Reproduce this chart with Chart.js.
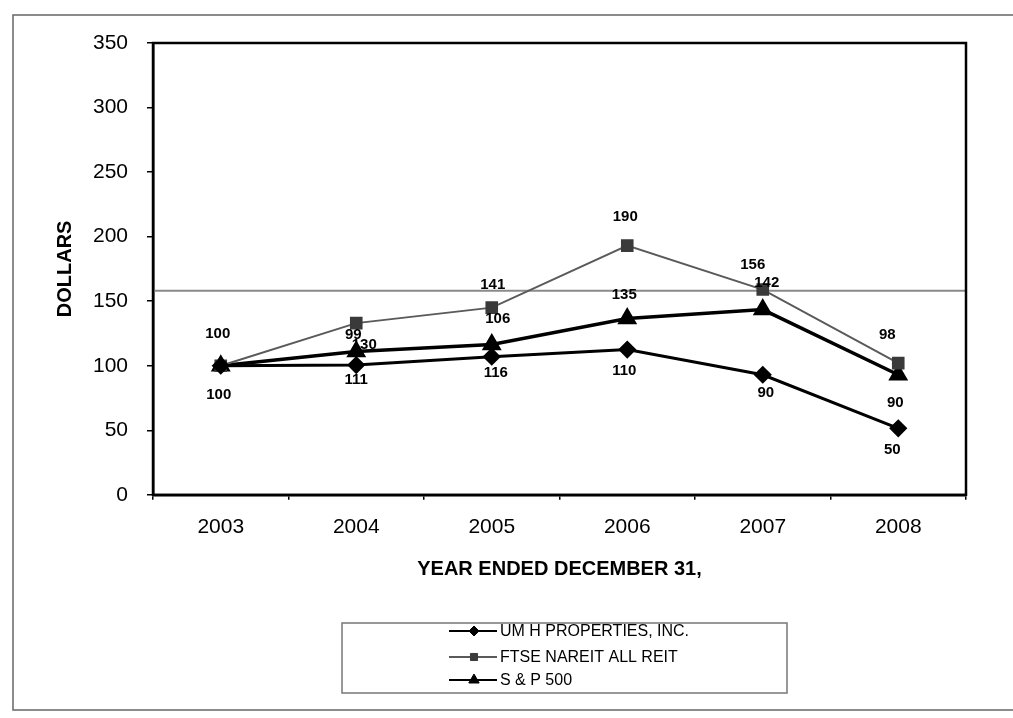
<!DOCTYPE html>
<html>
<head>
<meta charset="utf-8">
<script src="https://cdn.jsdelivr.net/npm/chart.js@4.4.0/dist/chart.umd.min.js"></script>
<style>
  body { margin: 0; background: #fff; }
</style>
</head>
<body>
<canvas id="chart-tsr" width="1013" height="718"></canvas>
<script>
// values
const years = ["2003", "2004", "2005", "2006", "2007", "2008"];
const umhValues = [100, 100.5, 107, 112.5, 93, 51.5];
const ftseValues = [100, 133, 145, 193, 159, 102];
const spValues = [100, 111, 116.5, 136.5, 143.5, 93];

// printed point labels (they don't sit exactly on their points in the scan)
const umhLabels = ["100", "111", "116", "110", "90", "50"];
const ftseLabels = ["100", "99", "141", "190", "156", "98"];
const spLabels = ["", "130", "106", "135", "142", "90"];

// where each printed label sits relative to its point, in px
const umhLabelShift = [[-2, 29], [0, 15], [4, 16], [-3, 21], [3, 18], [-6, 22]];
const ftseLabelShift = [[-3, -32], [-3, 12], [1, -23], [-2, -29], [-10, -25], [-11, -28]];
const spLabelShift = [[0, 0], [8, -7], [6, -26], [-3, -24], [4, -27], [-3, 28]];

const seriesNames = ["UM H PROPERTIES, INC.", "FTSE NAREIT ALL REIT", "S & P 500"];
const scanLineValue = 158; // grey rule running across the scan

const FONT = "'Liberation Sans', Arial, sans-serif";
Chart.defaults.font.family = FONT;
Chart.defaults.color = "#000";

const pointLabels = [
  { labels: umhLabels, shift: umhLabelShift },
  { labels: ftseLabels, shift: ftseLabelShift },
  { labels: spLabels, shift: spLabelShift },
];

const decorations = {
  id: "decorations",
  beforeDatasetsDraw(chart) {
    const { ctx, chartArea } = chart;
    const y = chart.scales.y.getPixelForValue(scanLineValue);
    ctx.save();
    ctx.strokeStyle = "#8a8a8a";
    ctx.lineWidth = 2;
    ctx.beginPath();
    ctx.moveTo(chartArea.left, y);
    ctx.lineTo(chartArea.right, y);
    ctx.stroke();
    ctx.restore();
  },
  afterDraw(chart) {
    const { ctx, chartArea } = chart;
    ctx.save();

    // frame round the plot
    ctx.strokeStyle = "#000";
    ctx.lineWidth = 2.5;
    ctx.strokeRect(chartArea.left, chartArea.top, chartArea.right - chartArea.left, chartArea.bottom - chartArea.top);

    // point labels
    ctx.fillStyle = "#000";
    ctx.font = "bold 15px " + FONT;
    ctx.textAlign = "center";
    ctx.textBaseline = "middle";
    pointLabels.forEach((set, di) => {
      const meta = chart.getDatasetMeta(di);
      meta.data.forEach((pt, i) => {
        if (!set.labels[i]) return;
        ctx.fillText(set.labels[i], pt.x + set.shift[i][0], pt.y + set.shift[i][1]);
      });
    });

    // legend box
    const box = { left: 342, top: 623, right: 787, bottom: 693 };
    ctx.strokeStyle = "#777";
    ctx.lineWidth = 1.5;
    ctx.strokeRect(box.left, box.top, box.right - box.left, box.bottom - box.top);
    const rowY = [631, 657, 680];
    const legendRadius = [5, 5, 6];
    ctx.font = "16px " + FONT;
    ctx.textAlign = "left";
    chart.data.datasets.forEach((ds, i) => {
      const y = rowY[i];
      ctx.strokeStyle = ds.borderColor;
      ctx.lineWidth = Math.min(ds.borderWidth, 2);
      ctx.beginPath();
      ctx.moveTo(449, y);
      ctx.lineTo(497, y);
      ctx.stroke();
      ctx.fillStyle = ds.pointBackgroundColor;
      ctx.strokeStyle = ds.pointBorderColor;
      ctx.lineWidth = 1;
      Chart.helpers.drawPoint(ctx, { pointStyle: ds.pointStyle, radius: legendRadius[i], rotation: 0, borderWidth: 1 }, 474, y);
      ctx.fillStyle = "#000";
      ctx.fillText(ds.label, 500, y + 1);
    });

    // outer page frame
    ctx.strokeStyle = "#666";
    ctx.lineWidth = 1.5;
    ctx.strokeRect(13, 15, 1030, 695);
    ctx.restore();
  },
};

new Chart(document.getElementById("chart-tsr"), {
  type: "line",
  data: {
    labels: years,
    datasets: [
      {
        label: seriesNames[0],
        data: umhValues,
        borderColor: "#000",
        borderWidth: 3,
        pointStyle: "rectRot",
        pointRadius: 7,
        pointBackgroundColor: "#000",
        pointBorderColor: "#000",
      },
      {
        label: seriesNames[1],
        data: ftseValues,
        borderColor: "#5a5a5a",
        borderWidth: 2,
        pointStyle: "rect",
        pointRadius: 7.5,
        pointBackgroundColor: "#3a3a3a",
        pointBorderColor: "#3a3a3a",
      },
      {
        label: seriesNames[2],
        data: spValues,
        borderColor: "#000",
        borderWidth: 3.5,
        pointStyle: "triangle",
        pointRadius: 8,
        pointBackgroundColor: "#000",
        pointBorderColor: "#000",
      },
    ],
  },
  options: {
    responsive: false,
    animation: false,
    layout: { padding: { top: 43, right: 47, bottom: 137, left: 0 } },
    plugins: {
      legend: { display: false },
      tooltip: { enabled: false },
    },
    scales: {
      x: {
        offset: true,
        ticks: { color: "#000", font: { size: 21 }, padding: 15 },
        grid: { offset: true, drawOnChartArea: false, tickLength: 5, color: "#000", lineWidth: 1.5 },
        border: { color: "#000", width: 2.5 },
        title: {
          display: true,
          text: "YEAR ENDED DECEMBER 31,",
          color: "#000",
          font: { size: 20, weight: "bold" },
          padding: { top: 2, bottom: 0 },
        },
      },
      y: {
        min: 0,
        max: 350,
        ticks: { stepSize: 50, color: "#000", font: { size: 21 }, padding: 19 },
        grid: { drawOnChartArea: false, tickLength: 6, color: "#000", lineWidth: 1.5 },
        border: { color: "#000", width: 2.5 },
        title: {
          display: true,
          text: "DOLLARS",
          color: "#000",
          font: { size: 20, weight: "bold" },
          padding: { top: 53, bottom: 0 },
        },
        afterFit(scale) {
          scale.width = 153;
        },
      },
    },
  },
  plugins: [decorations],
});
</script>
</body>
</html>
